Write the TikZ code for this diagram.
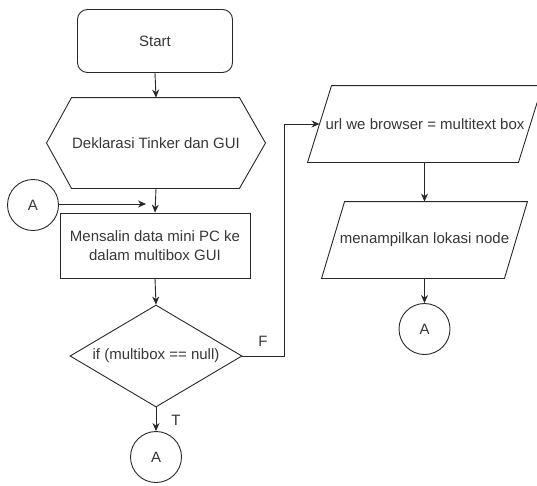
\documentclass[tikz,border=0pt]{standalone}
\usepackage{fontspec}
\setmainfont{Liberation Sans}
\usetikzlibrary{shapes.geometric,arrows.meta}
\definecolor{linec}{RGB}{40,40,40}
\definecolor{txtc}{RGB}{55,55,55}
\tikzset{
  base/.style={draw=linec, line width=0.9pt, text=txtc, font=\fontsize{15}{18.5}\selectfont, inner sep=0pt},
  startbox/.style={base, rectangle, rounded corners=10pt, minimum width=155pt, minimum height=63pt},
  procbox/.style={base, rectangle, minimum width=190pt, minimum height=65pt, align=center},
  hexbox/.style={base, draw=none, rectangle, minimum width=218pt, minimum height=90pt},
  decbox/.style={base, diamond, minimum width=172pt, minimum height=102pt},
  iobox/.style={base, draw=none, rectangle, minimum height=76pt},
  conn/.style={base, circle, minimum size=51pt},
  lbl/.style={text=txtc, font=\fontsize{15}{18}\selectfont, inner sep=0pt},
  arr/.style={draw=linec, line width=0.9pt, -{Stealth[length=8pt,width=7pt]}},
  ln/.style={draw=linec, line width=0.9pt, line join=miter}
}
\begin{document}
\begin{tikzpicture}[x=1pt,y=-1pt]
\useasboundingbox[fill=white] (0,0) rectangle (537,485);
\node[startbox] (start) at (155,41) {Start};
\node[hexbox] (hex) at (156,143) {Deklarasi Tinker dan GUI};
\draw[ln] (hex.west) -- ([xshift=25pt]hex.north west) -- ([xshift=-26pt]hex.north east)
  -- (hex.east) -- ([xshift=-26pt]hex.south east) -- ([xshift=25pt]hex.south west) -- cycle;
\node[procbox] (copy) at (155,245.5) {Mensalin data mini PC ke\\dalam multibox GUI};
\node[decbox] (dec) at (156,356) {\makebox[0pt]{if (multibox == null)}};
\node[conn] (ain) at (33,205) {A};
\node[conn] (abot) at (156,457) {A};
\node[iobox, minimum width=210pt] (url) at (425,124) {url we browser = multitext box};
\draw[ln] ([xshift=-12pt]url.south west) -- ([xshift=12pt]url.north west)
  -- ([xshift=12pt]url.north east) -- ([xshift=-12pt]url.south east) -- cycle;
\node[iobox, minimum width=182pt] (show) at (424.5,240) {menampilkan lokasi node};
\draw[ln] ([xshift=-11.5pt]show.south west) -- ([xshift=11.5pt]show.north west)
  -- ([xshift=11.5pt]show.north east) -- ([xshift=-11.5pt]show.south east) -- cycle;
\node[conn] (aright) at (424.5,329) {A};
\coordinate (ainend) at (146,204);
\coordinate (fx) at (284,0);

\draw[arr] (start.south) -- (hex.north);
\draw[arr] (hex.south) -- (copy.north);
\draw[arr] (ain.east |- ainend) -- (ainend);
\draw[arr] (copy.south) -- (dec.north);
\draw[arr] (dec.south) -- (abot.north);
\draw[arr] (dec.east) -- (dec.east -| fx) |- (url.west);
\draw[arr] (url.south -| show.north) -- (show.north);
\draw[arr] (show.south -| aright.north) -- (aright.north);

\node[lbl] (tl) at (176,420) {T};
\node[lbl] (fl) at (263,341) {F};
\end{tikzpicture}
\end{document}
